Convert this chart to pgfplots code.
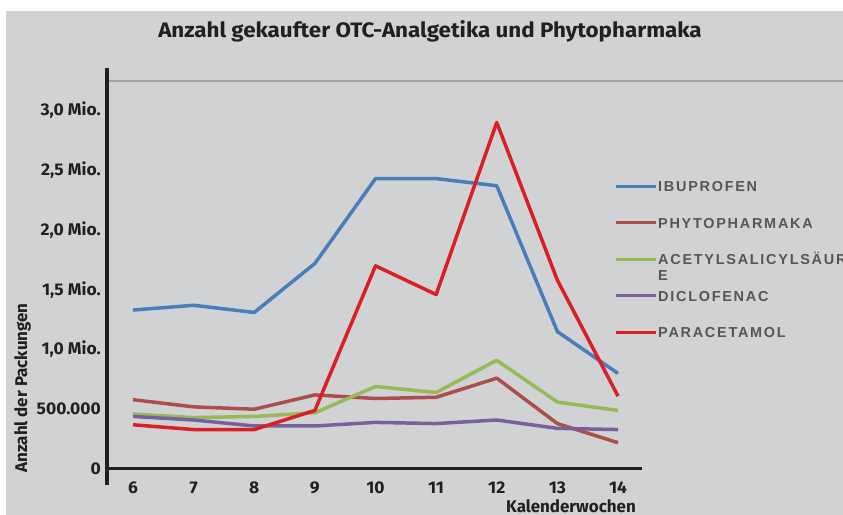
\documentclass[border=0pt]{standalone}
\usepackage{pgfplots}
\pgfplotsset{compat=1.18}
\usepackage{fontspec}
\setmainfont{Fira Sans}
\newfontfamily\titlefont[FakeStretch=1.07]{Fira Sans}
\newfontfamily\tickfont[FakeStretch=1.03]{Fira Sans}
\newfontfamily\legfont[LetterSpace=12]{Liberation Sans}
\definecolor{bgc}{RGB}{209,210,212}
\definecolor{gridc}{RGB}{160,161,163}
\definecolor{txt}{RGB}{35,31,32}
\definecolor{legc}{RGB}{85,86,88}
\definecolor{cblue}{RGB}{74,126,187}
\definecolor{cbrown}{RGB}{172,78,75}
\definecolor{cgreen}{RGB}{150,186,86}
\definecolor{cpurple}{RGB}{120,96,160}
\definecolor{cred}{RGB}{218,32,38}
\begin{document}
\begin{tikzpicture}
\path[use as bounding box] (0bp,0bp) rectangle (843bp,515bp);
\fill[bgc] (6bp,0bp) rectangle (843bp,504bp);
\node[font=\titlefont\bfseries\fontsize{21}{25}\selectfont, text=txt] at (430bp,484bp) {Anzahl gekaufter OTC-Analgetika und Phytopharmaka};
\draw[gridc, line width=1.3bp] (107bp,434bp) -- (843bp,434bp);
\node[rotate=90, anchor=base, font=\bfseries\fontsize{17}{20}\selectfont, text=txt] at (27bp,127bp) {Anzahl der Packungen};
\node[anchor=base east, font=\bfseries\fontsize{17}{20}\selectfont, text=txt, inner sep=0pt] at (636bp,2.5bp) {Kalenderwochen};
\begin{axis}[
  at={(107bp,30bp)}, anchor=south west,
  scale only axis, width=535bp, height=417bp,
  xmin=5.5711, xmax=14.3959, ymin=-0.1339, ymax=3.3556,
  axis line style={draw=none},
  major tick length=0pt, tick style={draw=none},
  xtick={6,7,8,9,10,11,12,13,14},
  ytick={0,0.5,1,1.5,2,2.5,3},
  yticklabels={0,500.000,{1,0 Mio.},{1,5 Mio.},{2,0 Mio.},{2,5 Mio.},{3,0 Mio.}},
  ticklabel style={font=\tickfont\bfseries\fontsize{17}{20}\selectfont, text=txt},
  xticklabel style={anchor=base, yshift=-9bp, inner sep=0pt},
  yticklabel style={anchor=east, xshift=-6bp, inner sep=0pt},
  /pgf/number format/assume math mode=true,
  clip=false,
  legend image code/.code={\draw[#1, line width=3bp] (0bp,0bp) -- (40bp,0bp);},
  legend cell align=left,
  legend style={at={(rel axis cs:0.9477,0.733)}, anchor=north west, draw=none, fill=none, inner sep=0pt,
    font=\legfont\bfseries\fontsize{14.5}{16.5}\selectfont, text=legc, row sep=23.5bp, column sep=0bp,
    nodes={inner sep=1bp, text height=11bp, text depth=0bp}},
  every axis plot/.append style={line width=3.5bp, line join=round, mark=none}
]
\draw[txt, line width=3bp] (rel axis cs:0,0) -- (rel axis cs:0,1);
\draw[txt, line width=3bp] (axis cs:5.5711,0) -- (axis cs:14.3959,0);
\addplot[cblue] coordinates {(6,1.33) (7,1.37) (8,1.31) (9,1.72) (10,2.43) (11,2.43) (12,2.37) (13,1.15) (14,0.80)};
\addlegendentry{IBUPROFEN}
\addplot[cbrown] coordinates {(6,0.58) (7,0.52) (8,0.50) (9,0.62) (10,0.59) (11,0.60) (12,0.76) (13,0.38) (14,0.22)};
\addlegendentry{PHYTOPHARMAKA}
\addplot[cgreen] coordinates {(6,0.46) (7,0.43) (8,0.44) (9,0.47) (10,0.69) (11,0.64) (12,0.91) (13,0.56) (14,0.49)};
\addlegendentry{\smash{\parbox[t]{6cm}{\raggedright ACETYLSALICYLSÄUR\\[0bp]E}}}
\addplot[cpurple] coordinates {(6,0.44) (7,0.41) (8,0.36) (9,0.36) (10,0.39) (11,0.38) (12,0.41) (13,0.34) (14,0.33)};
\addlegendentry{DICLOFENAC}
\addplot[cred] coordinates {(6,0.37) (7,0.33) (8,0.33) (9,0.49) (10,1.70) (11,1.46) (12,2.90) (13,1.58) (14,0.61)};
\addlegendentry{PARACETAMOL}
\end{axis}
\end{tikzpicture}
\end{document}
